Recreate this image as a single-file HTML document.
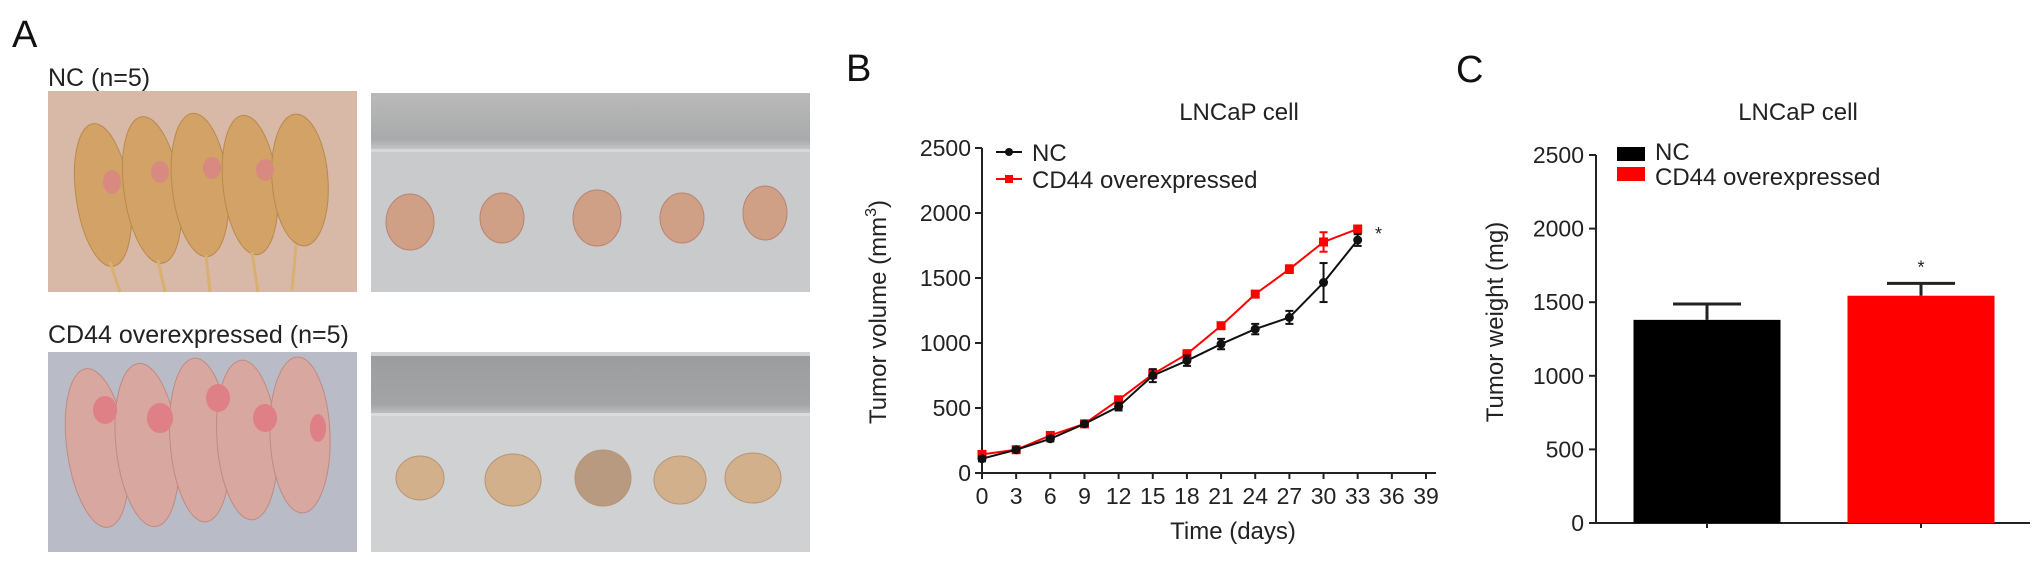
<!DOCTYPE html>
<html><head><meta charset="utf-8">
<style>
html,body{margin:0;padding:0;background:#fff;}
svg{display:block;font-family:"Liberation Sans",Arial,sans-serif;}
</style></head>
<body>
<svg id="fig" width="2032" height="565" viewBox="0 0 2032 565" xmlns="http://www.w3.org/2000/svg">
<defs>
<linearGradient id="ruler1" x1="0" y1="0" x2="0" y2="1">
<stop offset="0" stop-color="#b9b9b9"/><stop offset="0.8" stop-color="#a9aaab"/><stop offset="1" stop-color="#c8c9ca"/></linearGradient>
<linearGradient id="ruler2" x1="0" y1="0" x2="0" y2="1">
<stop offset="0" stop-color="#9c9d9e"/><stop offset="0.8" stop-color="#a3a4a5"/><stop offset="1" stop-color="#c4c5c6"/></linearGradient>
</defs>

<!-- Panel A -->
<g>
<text x="12" y="47" font-size="38" fill="#111">A</text>
<text x="48" y="86" font-size="25" fill="#222">NC (n=5)</text>
<g>
<rect x="48" y="91" width="309" height="201" fill="#d8b8a6"/>
<g fill="#d2a266" stroke="#b88a4c" stroke-width="1">
<ellipse cx="103" cy="195" rx="27" ry="72" transform="rotate(-8 103 195)"/>
<ellipse cx="152" cy="190" rx="28" ry="74" transform="rotate(-8 152 190)"/>
<ellipse cx="200" cy="185" rx="28" ry="72" transform="rotate(-6 200 185)"/>
<ellipse cx="250" cy="185" rx="27" ry="70" transform="rotate(-6 250 185)"/>
<ellipse cx="300" cy="180" rx="28" ry="66" transform="rotate(-4 300 180)"/>
</g>
<g fill="#d98a80"><ellipse cx="112" cy="182" rx="9" ry="12"/><ellipse cx="160" cy="172" rx="9" ry="11"/><ellipse cx="212" cy="168" rx="9" ry="11"/><ellipse cx="265" cy="170" rx="9" ry="11"/></g>
<g stroke="#d9b070" stroke-width="3" fill="none">
<path d="M110 262 L120 292"/><path d="M158 260 L165 292"/><path d="M206 255 L210 292"/><path d="M252 252 L258 292"/><path d="M296 245 L292 290"/>
</g>
</g>
<g>
<rect x="371" y="93" width="439" height="199" fill="#c9cacc"/>
<rect x="371" y="93" width="439" height="58" fill="url(#ruler1)"/>
<rect x="371" y="149" width="439" height="3" fill="#d6d7d8"/>
<g fill="#cf9f86" stroke="#b78472" stroke-width="1">
<ellipse cx="410" cy="222" rx="24" ry="28"/>
<ellipse cx="502" cy="218" rx="22" ry="25"/>
<ellipse cx="597" cy="218" rx="24" ry="28"/>
<ellipse cx="682" cy="218" rx="22" ry="25"/>
<ellipse cx="765" cy="213" rx="22" ry="27"/>
</g>
</g>
<text x="48" y="343" font-size="25" fill="#222">CD44 overexpressed (n=5)</text>
<g>
<rect x="48" y="352" width="309" height="200" fill="#b9bcc6"/>
<g fill="#d8a79f" stroke="#c08a82" stroke-width="1">
<ellipse cx="97" cy="448" rx="30" ry="80" transform="rotate(-8 97 448)"/>
<ellipse cx="147" cy="445" rx="31" ry="82" transform="rotate(-6 147 445)"/>
<ellipse cx="200" cy="440" rx="30" ry="82" transform="rotate(-4 200 440)"/>
<ellipse cx="247" cy="440" rx="30" ry="80" transform="rotate(-4 247 440)"/>
<ellipse cx="300" cy="435" rx="30" ry="78" transform="rotate(-2 300 435)"/>
</g>
<g fill="#df7f86"><ellipse cx="105" cy="410" rx="12" ry="14"/><ellipse cx="160" cy="418" rx="13" ry="15"/><ellipse cx="218" cy="398" rx="12" ry="14"/><ellipse cx="265" cy="418" rx="12" ry="14"/><ellipse cx="318" cy="428" rx="8" ry="14"/></g>
</g>
<g>
<rect x="371" y="352" width="439" height="200" fill="#d0d1d3"/>
<rect x="371" y="356" width="439" height="60" fill="url(#ruler2)"/>
<rect x="371" y="413" width="439" height="3" fill="#dcdcdd"/>
<g fill="#d3b08c" stroke="#b89472" stroke-width="1">
<ellipse cx="420" cy="478" rx="24" ry="22"/>
<ellipse cx="513" cy="480" rx="28" ry="26"/>
<ellipse cx="603" cy="478" rx="28" ry="28" fill="#b89a80"/>
<ellipse cx="680" cy="480" rx="26" ry="24"/>
<ellipse cx="753" cy="478" rx="28" ry="25"/>
</g>
</g>
</g>

<!-- Panel B -->
<g id="panelB">
<text x="846" y="81" font-size="38" fill="#111">B</text>
<text x="1239" y="120" font-size="24" fill="#222" text-anchor="middle">LNCaP cell</text>
<text transform="translate(886 312) rotate(-90)" font-size="24" fill="#222" text-anchor="middle">Tumor volume (mm<tspan font-size="16" dy="-10">3</tspan><tspan dy="10">)</tspan></text>
<text x="1233" y="539" font-size="24" fill="#222" text-anchor="middle">Time (days)</text>
<g id="bAxes"></g>
<g id="bSeries"></g>
<g>
<g>
<line x1="996" y1="152" x2="1022" y2="152" stroke="#111" stroke-width="2"/><circle cx="1009" cy="152" r="4" fill="#111"/>
<text x="1032" y="161" font-size="24" fill="#222">NC</text></g>
<g>
<line x1="996" y1="179" x2="1022" y2="179" stroke="#f00" stroke-width="2"/><rect x="1005" y="175" width="8" height="8" fill="#f00"/>
<text x="1032" y="188" font-size="24" fill="#222">CD44 overexpressed</text></g>
</g>
<text x="1375" y="240" font-size="18" fill="#222">*</text>
</g>

<!-- Panel C -->
<g id="panelC">
<text x="1456" y="82" font-size="38" fill="#111">C</text>
<text x="1798" y="120" font-size="24" fill="#222" text-anchor="middle">LNCaP cell</text>
<text transform="translate(1503 322) rotate(-90)" font-size="24" fill="#222" text-anchor="middle">Tumor weight (mg)</text>
<g id="cAxes"></g>
<g id="cBars"></g>
<g>
<g><rect x="1617" y="147" width="28" height="14" fill="#000"/><text x="1655" y="160" font-size="24" fill="#222">NC</text></g>
<g><rect x="1617" y="167" width="28" height="14" fill="#f00"/><text x="1655" y="185" font-size="24" fill="#222">CD44 overexpressed</text></g>
</g>
</g>
</svg>
<script>
// Panel B data
const bDays = [0,3,6,9,12,15,18,21,24,27,30,33];
const bNC = [110,179,263,378,511,749,864,992,1107,1197,1465,1792];
const bNCerr = [20,15,20,15,30,50,40,40,40,50,150,45];
const bCD44 = [143,179,289,378,563,760,915,1133,1376,1568,1777,1877];
const bCD44err = [15,15,20,15,20,30,30,20,20,30,75,20];
const bXTicks = [0,3,6,9,12,15,18,21,24,27,30,33,36,39];
const bYTicks = [0,500,1000,1500,2000,2500];
// Panel C data
const cGroups = ['NC','CD44 overexpressed'];
const cValues = [1380,1544];
const cErr = [108,84];
const cColors = ['#000','#f00'];
const cYTicks = [0,500,1000,1500,2000,2500];

const NS='http://www.w3.org/2000/svg';
function mk(tag,attrs,parent){const e=document.createElementNS(NS,tag);for(const k in attrs)e.setAttribute(k,attrs[k]);parent.appendChild(e);return e;}

// B scales
const bx0=982,bx1=1426,by0=473,by1=148;
const bX=d=>bx0+(d-0)/(39-0)*(bx1-bx0);
const bY=v=>by0-(v/2500)*(by0-by1);
const bAx=document.getElementById('bAxes');
let a=mk('line',{x1:bx0,y1:by0,x2:1436,y2:by0,stroke:'#222','stroke-width':2},bAx);


a=mk('line',{x1:bx0,y1:by0,x2:bx0,y2:by1,stroke:'#222','stroke-width':2},bAx);


bXTicks.forEach(t=>{
  mk('line',{x1:bX(t),y1:by0,x2:bX(t),y2:by0+6,stroke:'#222','stroke-width':2},bAx);
  const tx=mk('text',{x:bX(t),y:504,'font-size':23,'text-anchor':'middle',fill:'#222'},bAx);
  tx.textContent=t;
  
  
});
bYTicks.forEach(t=>{
  mk('line',{x1:bx0-7,y1:bY(t),x2:bx0,y2:bY(t),stroke:'#222','stroke-width':2},bAx);
  const tx=mk('text',{x:971,y:bY(t)+8,'font-size':23,'text-anchor':'end',fill:'#222'},bAx);
  tx.textContent=t;
  
  
});
const bSer=document.getElementById('bSeries');
function drawSeries(vals,errs,color,name,square){
  const g=mk('g',{},bSer);
  
  
  const pts=bDays.map((d,i)=>bX(d)+','+bY(vals[i])).join(' ');
  mk('polyline',{points:pts,fill:'none',stroke:color,'stroke-width':2},g);
  bDays.forEach((d,i)=>{
    const x=bX(d),yt=bY(vals[i]+errs[i]),yb=bY(vals[i]-errs[i]);
    mk('line',{x1:x,y1:yt,x2:x,y2:yb,stroke:color,'stroke-width':2},g);
    mk('line',{x1:x-4,y1:yt,x2:x+4,y2:yt,stroke:color,'stroke-width':2},g);
    mk('line',{x1:x-4,y1:yb,x2:x+4,y2:yb,stroke:color,'stroke-width':2},g);
    let m;
    if(square) m=mk('rect',{x:x-4.5,y:bY(vals[i])-4.5,width:9,height:9,fill:color},g);
    else m=mk('circle',{cx:x,cy:bY(vals[i]),r:4.5,fill:color},g);
    
    
  });
}
drawSeries(bCD44,bCD44err,'#f00','cd44-series',true);
drawSeries(bNC,bNCerr,'#111','nc-series',false);

// C scales
const cx0=1596,cx1=2030,cy0=523,cy1=155;
const cY=v=>cy0-(v/2500)*(cy0-cy1);
const cCenters=[1707,1921];
const cBarW=147;
const cAx=document.getElementById('cAxes');
a=mk('line',{x1:cx0,y1:cy0,x2:cx1,y2:cy0,stroke:'#222','stroke-width':2},cAx);


a=mk('line',{x1:cx0,y1:cy0,x2:cx0,y2:cy1,stroke:'#222','stroke-width':2},cAx);


cYTicks.forEach(t=>{
  mk('line',{x1:cx0-7,y1:cY(t),x2:cx0,y2:cY(t),stroke:'#222','stroke-width':2},cAx);
  const tx=mk('text',{x:1584,y:cY(t)+8,'font-size':23,'text-anchor':'end',fill:'#222'},cAx);
  tx.textContent=t;
  
  
});
const cB=document.getElementById('cBars');
cGroups.forEach((gname,i)=>{
  const cx=cCenters[i];
  mk('line',{x1:cx,y1:cy0,x2:cx,y2:cy0+5,stroke:'#222','stroke-width':2},cAx);
  const yt=cY(cValues[i]+cErr[i]);
  const e1=mk('line',{x1:cx,y1:cY(cValues[i]),x2:cx,y2:yt,stroke:'#222','stroke-width':3},cB);
  
  
  mk('line',{x1:cx-34,y1:yt,x2:cx+34,y2:yt,stroke:'#222','stroke-width':3},cB);
  const r=mk('rect',{x:cx-cBarW/2,y:cY(cValues[i]),width:cBarW,height:cy0-cY(cValues[i]),fill:cColors[i]},cB);
  
  
});
const st=mk('text',{x:cCenters[1],y:cY(cValues[1]+cErr[1])-10,'font-size':18,'text-anchor':'middle',fill:'#222'},cB);
st.textContent='*';


</script>
</body></html>
